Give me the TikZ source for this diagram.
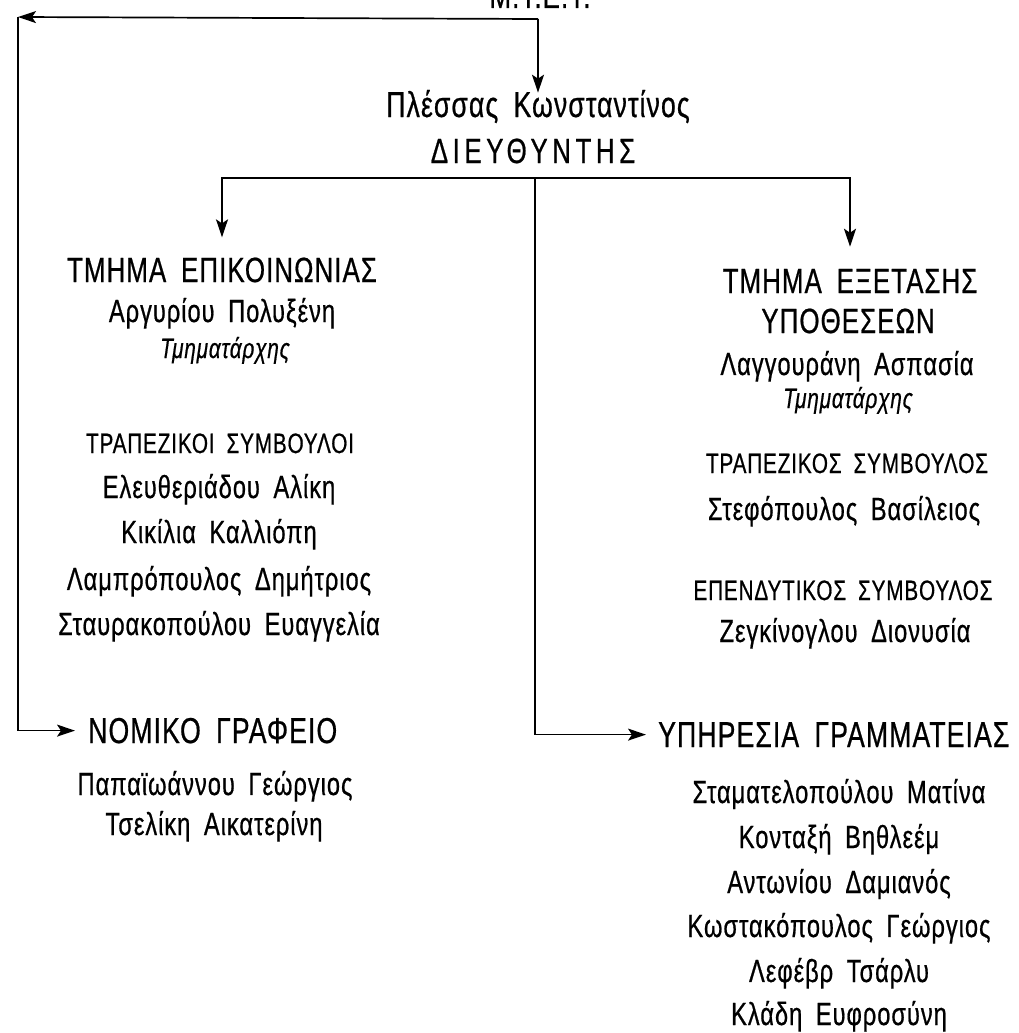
\documentclass[tikz,border=0pt]{standalone}
\usepackage{fontspec}
\setmainfont{Liberation Sans}[FakeStretch=0.74,LetterSpace=3,WordSpace=1.8,FakeBold=0.6]
\newfontfamily\dirfont{Liberation Sans}[FakeStretch=0.74,LetterSpace=13,FakeBold=0.6]
\usetikzlibrary{arrows.meta}
\begin{document}
\begin{tikzpicture}[x=1pt,y=-1pt,
  txt/.style={inner sep=0pt,anchor=base},
  head/.style={txt,font=\fontsize{35}{38}\selectfont},
  bighead/.style={txt,font=\fontsize{36}{39}\selectfont},
  nm/.style={txt,font=\fontsize{32}{35}\selectfont},
  role/.style={txt,font=\fontsize{28}{31}\selectfont\itshape},
  sub/.style={txt,font=\fontsize{28}{31}\selectfont},
  link/.style={line width=1.7pt},
  arr/.style={link,-{Stealth[length=18pt,width=12pt,inset=4pt]}}]
\fill[white] (0,0) rectangle (1019,1033);
\useasboundingbox (0,0) rectangle (1019,1033);

% top
\node[head] (mtet) at (540,8) {Μ.Τ.Ε.Τ.};
\node[txt,font=\fontsize{36}{39}\selectfont] (dname) at (538,117) {Πλέσσας Κωνσταντίνος};
\node[txt,font=\fontsize{35}{38}\dirfont] (dtitle) at (533,163) {ΔΙΕΥΘΥΝΤΗΣ};

% left department
\node[head] (epik) at (222,282) {ΤΜΗΜΑ ΕΠΙΚΟΙΝΩΝΙΑΣ};
\node[nm] (epikH) at (222,322) {Αργυρίου Πολυξένη};
\node[role] (epikR) at (225,358) {Τμηματάρχης};
\node[sub] (epikS) at (220,453) {ΤΡΑΠΕΖΙΚΟΙ ΣΥΜΒΟΥΛΟΙ};
\node[nm] (e1) at (219,498) {Ελευθεριάδου Αλίκη};
\node[nm] (e2) at (219,543) {Κικίλια Καλλιόπη};
\node[nm] (e3) at (219,590) {Λαμπρόπουλος Δημήτριος};
\node[nm] (e4) at (219,635) {Σταυρακοπούλου Ευαγγελία};

% right department
\node[head] (exet) at (850,293) {ΤΜΗΜΑ ΕΞΕΤΑΣΗΣ};
\node[head] (exet2) at (848,333) {ΥΠΟΘΕΣΕΩΝ};
\node[nm] (exetH) at (847,375) {Λαγγουράνη Ασπασία};
\node[role] (exetR) at (848,408) {Τμηματάρχης};
\node[sub] (exetS1) at (847,473) {ΤΡΑΠΕΖΙΚΟΣ ΣΥΜΒΟΥΛΟΣ};
\node[nm] (x1) at (844,520) {Στεφόπουλος Βασίλειος};
\node[sub] (exetS2) at (843,600) {ΕΠΕΝΔΥΤΙΚΟΣ ΣΥΜΒΟΥΛΟΣ};
\node[nm] (x2) at (845,642) {Ζεγκίνογλου Διονυσία};

% legal office
\node[bighead,anchor=base west] (nomiko) at (88,743) {ΝΟΜΙΚΟ ΓΡΑΦΕΙΟ};
\node[nm] (n1) at (215,795) {Παπαϊωάννου Γεώργιος};
\node[nm] (n2) at (214,835) {Τσελίκη Αικατερίνη};

% secretariat
\node[bighead,anchor=base west] (yphr) at (658,747) {ΥΠΗΡΕΣΙΑ ΓΡΑΜΜΑΤΕΙΑΣ};
\node[nm] (y1) at (839,803) {Σταματελοπούλου Ματίνα};
\node[nm] (y2) at (839,848) {Κονταξή Βηθλεέμ};
\node[nm] (y3) at (839,893) {Αντωνίου Δαμιανός};
\node[nm] (y4) at (839,937) {Κωστακόπουλος Γεώργιος};
\node[nm] (y5) at (839,982) {Λεφέβρ Τσάρλυ};
\node[nm] (y6) at (839,1025) {Κλάδη Ευφροσύνη};

% connectors
\coordinate (top) at (538,19);
\coordinate (corner) at (18,17);
\coordinate (hub) at (535,178);
\draw[arr] (top) -- (corner);
\draw[arr] (top) -- ([yshift=-3pt]top |- dname.north);
\draw[arr] (corner) |- ([xshift=-13pt]nomiko.west);
\draw[arr,shorten >=20pt] (hub) -| (epik.north);
\draw[arr,shorten >=22pt] (hub) -| (exet.north);
\draw[arr] (hub) |- ([xshift=-12pt]yphr.west);
\end{tikzpicture}
\end{document}
